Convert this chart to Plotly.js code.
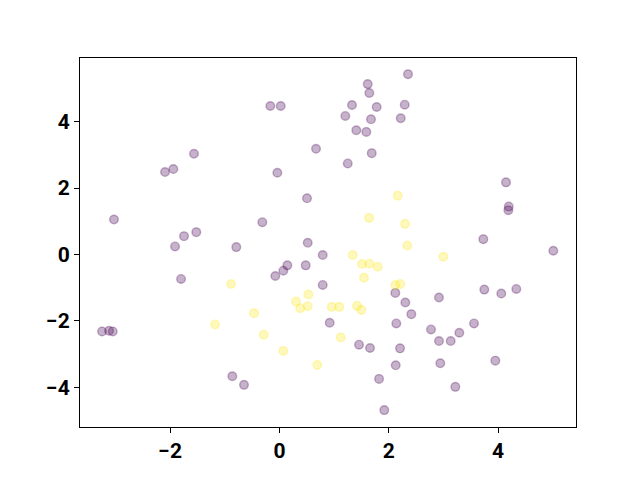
<!DOCTYPE html>
<html>
<head>
<meta charset="utf-8">
<script src="https://cdn.plot.ly/plotly-3.0.1.min.js"></script>
<style>html,body{margin:0;padding:0;background:#fff;}#chart{width:640px;height:480px;}</style>
</head>
<body>
<div id="chart"></div>
<script>
// Class 0 (purple) points
var x0 = [-0.167,0.024,0.67,-1.563,-2.093,-1.941,-0.038,0.505,-3.027,-0.313,-1.746,-1.521,-1.91,-0.789,0.518,
  2.353,1.616,1.645,1.328,1.78,2.293,1.206,1.676,2.22,1.407,1.59,1.689,1.25,4.146,4.196,4.189,3.731,5.012,
  0.792,0.481,0.145,0.071,-0.075,-1.80,0.792,0.92,-3.246,-3.118,-3.05,-0.862,-0.648,
  2.121,2.304,2.414,2.92,3.749,4.06,4.335,1.457,1.658,2.139,2.207,2.774,2.92,3.134,3.292,3.561,2.944,3.951,2.128,1.823,3.219,1.919];
var y0 = [4.47,4.47,3.18,3.03,2.48,2.57,2.46,1.69,1.05,0.97,0.55,0.67,0.24,0.22,0.35,
  5.43,5.13,4.86,4.50,4.44,4.51,4.17,4.07,4.10,3.74,3.69,3.05,2.74,2.17,1.44,1.33,0.46,0.11,
  -0.02,-0.33,-0.33,-0.49,-0.65,-0.74,-0.92,-2.06,-2.32,-2.30,-2.32,-3.67,-3.93,
  -1.16,-1.45,-1.80,-1.30,-1.06,-1.18,-1.04,-2.72,-2.82,-2.08,-2.83,-2.26,-2.61,-2.61,-2.36,-2.08,-3.28,-3.20,-3.34,-3.75,-3.99,-4.69];
// Class 1 (yellow) points
var x1 = [2.165,1.64,2.298,2.34,-0.886,0.529,0.304,0.382,0.518,-0.465,-1.178,-0.287,0.071,0.694,
  1.341,1.511,1.645,1.799,2.999,1.548,2.121,2.212,0.957,1.096,1.42,1.499,1.122];
var y1 = [1.77,1.10,0.92,0.27,-0.89,-1.21,-1.42,-1.62,-1.56,-1.77,-2.11,-2.42,-2.91,-3.33,
  -0.02,-0.29,-0.28,-0.37,-0.07,-0.70,-0.92,-0.89,-1.58,-1.58,-1.55,-1.67,-2.50];
var tickVals = [-2,0,2,4];
var yTickVals = [-4,-2,0,2,4];

var purple = 'rgba(68,1,84,0.3)';
var yellow = 'rgba(253,231,37,0.3)';

var traces = [
  {type:'scatter', mode:'markers', x:x0, y:y0, hoverinfo:'x+y',
   marker:{size:8.6, color:purple, line:{color:purple, width:1.4}}},
  {type:'scatter', mode:'markers', x:x1, y:y1, hoverinfo:'x+y',
   marker:{size:8.6, color:yellow, line:{color:yellow, width:1.4}}}
];

var axisCommon = {
  showgrid:false, zeroline:false, showline:true, mirror:true,
  linecolor:'#000', linewidth:1, ticks:'outside', ticklen:5, tickwidth:1, tickcolor:'#000',
  tickfont:{family:'Roboto, DejaVu Sans, sans-serif', size:21, color:'#000', weight:'bold'}
};

var layout = {
  width:640, height:480,
  margin:{l:80, r:64, t:58, b:53},
  paper_bgcolor:'#fff', plot_bgcolor:'#fff',
  showlegend:false,
  xaxis:Object.assign({}, axisCommon, {range:[-3.649,5.427], tickvals:tickVals}),
  yaxis:Object.assign({}, axisCommon, {range:[-5.199,5.916], tickvals:yTickVals})
};

Plotly.newPlot('chart', traces, layout, {displayModeBar:false, staticPlot:true});
</script>
</body>
</html>
